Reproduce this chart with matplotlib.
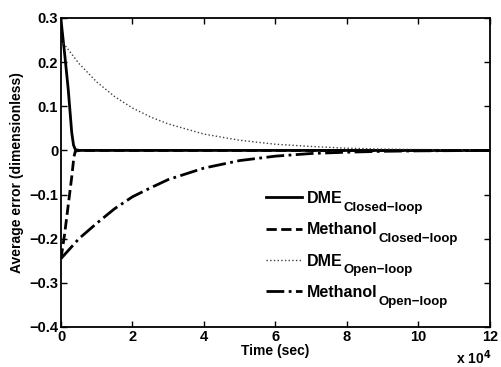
import numpy as np
import matplotlib.pyplot as plt

plt.rcParams["font.family"] = "Liberation Sans"
plt.rcParams["font.weight"] = "bold"

# time in seconds, errors
t_dme_cl = [0, 1000, 2000, 3000, 3500, 4000, 5000, 120000]
e_dme_cl = [0.295, 0.22, 0.14, 0.04, 0.012, 0.002, 0.0, 0.0]

t_met_cl = [0, 1000, 2000, 3000, 3600, 4000, 5000, 120000]
e_met_cl = [-0.245, -0.19, -0.125, -0.06, -0.015, -0.002, 0.0, 0.0]

t_dme_ol = [0, 5000, 10000, 15000, 20000, 25000, 30000, 40000, 50000,
            60000, 70000, 80000, 90000, 100000, 120000]
e_dme_ol = [0.25, 0.197, 0.155, 0.122, 0.096, 0.076, 0.060, 0.037, 0.023,
            0.014, 0.009, 0.005, 0.003, 0.002, 0.001]

t_met_ol = [0, 2000, 5000, 10000, 15000, 20000, 25000, 30000, 40000, 50000,
            60000, 70000, 80000, 90000, 100000, 120000]
e_met_ol = [-0.245, -0.227, -0.20, -0.165, -0.132, -0.105, -0.085, -0.066,
            -0.04, -0.023, -0.013, -0.007, -0.004, -0.002, -0.001, 0.0]

names = ["DME", "Methanol", "DME", "Methanol"]
subs = ["Closed\u2212loop", "Closed\u2212loop", "Open\u2212loop", "Open\u2212loop"]

fig = plt.figure(figsize=(5.01, 3.67), dpi=100)
ax = fig.add_axes([0.1218, 0.109, 0.856, 0.842])

sc = 1e4
ax.plot(np.array(t_dme_cl) / sc, e_dme_cl, "k-", lw=2, label=names[0])
ax.plot(np.array(t_met_cl) / sc, e_met_cl, "k--", lw=2, label=names[1])
ax.plot(np.array(t_dme_ol) / sc, e_dme_ol, ":", color="0.25", lw=1, label=names[2])
ax.plot(np.array(t_met_ol) / sc, e_met_ol, "k-.", lw=2, label=names[3])

ax.set_xlim(0, 12)
ax.set_ylim(-0.4, 0.3)
ax.set_xticks(np.arange(0, 13, 2))
ax.set_yticks(np.arange(-0.4, 0.31, 0.1))
ax.set_yticklabels(["\u22120.4", "\u22120.3", "\u22120.2", "\u22120.1", "0", "0.1", "0.2", "0.3"])
ax.tick_params(direction="in", top=True, right=True, length=4, width=1, labelsize=10.5, pad=2)
for s in ax.spines.values():
    s.set_linewidth(1.3)

ax.set_xlabel("Time (sec)", fontsize=10, fontweight="bold", labelpad=0)
ax.set_ylabel("Average error (dimensionless)", fontsize=10, fontweight="bold", labelpad=4)
fig.text(0.946, 0.008, r"x 10$^{4}$", fontsize=10, fontweight="bold", ha="center", va="baseline")

leg = ax.legend(loc="upper left", bbox_to_anchor=(0.478, 0.44), frameon=False,
                fontsize=11.5, handlelength=2.25, handletextpad=0.3,
                labelspacing=1.02, borderpad=0, borderaxespad=0)

# subscripts next to each legend entry
fig.canvas.draw()
for txt, sub in zip(leg.get_texts(), subs):
    ax.annotate(sub, xy=(1, 0), xycoords=txt, xytext=(0.5, -3.5),
                textcoords="offset points", fontsize=9.5, fontweight="bold",
                ha="left", va="baseline")

fig.savefig("out.png", dpi=100)
